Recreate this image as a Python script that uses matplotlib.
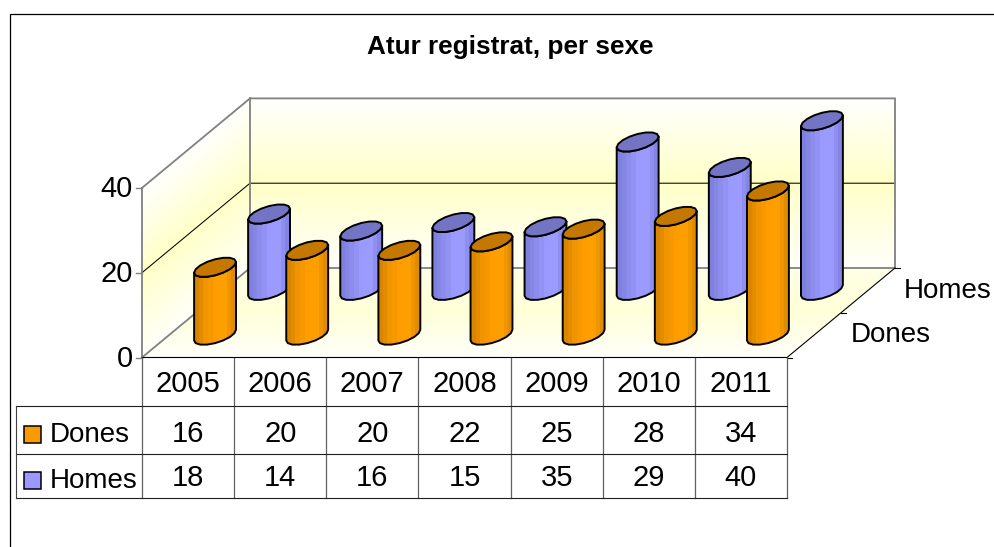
import matplotlib
matplotlib.use('Agg')
import matplotlib.pyplot as plt
from matplotlib.colors import LinearSegmentedColormap
from matplotlib.patches import Polygon, Rectangle
import numpy as np

plt.rcParams['font.family'] = ['Liberation Sans', 'DejaVu Sans']

# data
years = ['2005', '2006', '2007', '2008', '2009', '2010', '2011']
dones = [16, 20, 20, 22, 25, 28, 34]
homes = [18, 14, 16, 15, 35, 29, 40]
series_names = ['Dones', 'Homes']
y_ticks = [0, 20, 40]
title = 'Atur registrat, per sexe'

# geometry of the 3d box, in pixels
x0, x1 = 142, 787
y0 = 357.5
dx, dy = 108, 89.5
px_per_unit = 4.24
col_w = (x1 - x0) / len(years)

GRAY = '#808080'
FS_NUM = 21
FS_TXT = 20
cm_orange = LinearSegmentedColormap.from_list('o', ['#D98500', '#F09400', '#FF9C00', '#FFA000', '#E08C00'])
cm_blue = LinearSegmentedColormap.from_list('b', ['#7F7FDD', '#8C8CEC', '#9999FF', '#9C9CFF', '#8484E4'])
cm_wall = LinearSegmentedColormap.from_list('w', ['#FFFFFF', '#FFFFC8', '#FFFFFA'])


def proj(i, depth, value=0):
    # i = column position, depth 0..1 from front to back
    return (x0 + i * col_w + depth * dx, y0 - depth * dy - value * px_per_unit)


fig = plt.figure(figsize=(9.95, 5.47), dpi=100)
ax = fig.add_axes([0, 0, 1, 1])
ax.axis('off')

# walls
back_left = proj(0, 1)
back_right = proj(len(years), 1)
top = back_left[1] - 40 * px_per_unit
grad = np.linspace(0, 1, 100).reshape(-1, 1)
ax.imshow(grad, cmap=cm_wall, aspect='auto', zorder=1,
          extent=(back_left[0], back_right[0], back_left[1], top))

# left wall, gradient follows the slant
xs = np.linspace(x0, back_left[0], 60)
ys = np.linspace(top, y0, 200)
X, Y = np.meshgrid(xs, ys)
low = y0 - (X - x0) / dx * dy
im = ax.imshow(1 - (low - Y) / (40 * px_per_unit), cmap=cm_wall, vmin=0, vmax=1, aspect='auto', zorder=1,
               origin='upper', extent=(x0, back_left[0], y0, top))
p = Polygon([proj(0, 0, 40), proj(0, 1, 40), proj(0, 1), proj(0, 0)], fc='none', ec='none', transform=ax.transData)
ax.add_patch(p)
im.set_clip_path(p)

# floor
cm_floor = LinearSegmentedColormap.from_list('f', ['#FFFFE6', '#FFFFD8', '#FFFFFA'])
im = ax.imshow(grad, cmap=cm_floor, aspect='auto', zorder=1,
               extent=(x0, back_right[0], y0, back_left[1]))
p = Polygon([proj(0, 0), proj(len(years), 0), proj(len(years), 1), proj(0, 1)], fc='none', ec='none')
ax.add_patch(p)
im.set_clip_path(p)

# grid line at 20
a, b, c = proj(0, 0, 20), proj(0, 1, 20), proj(len(years), 1, 20)
ax.plot([a[0], b[0], c[0]], [a[1], b[1], c[1]], color='black', lw=0.75, zorder=2)

# box edges
for pts in ([proj(0, 0, 40), proj(0, 1, 40), proj(len(years), 1, 40), proj(len(years), 1), proj(0, 1)],
            [proj(0, 1, 40), proj(0, 1)],
            [proj(0, 0, 40), proj(0, 0), proj(0, 1)]):
    ax.plot([q[0] for q in pts], [q[1] for q in pts], color=GRAY, lw=1.3, zorder=2, solid_joinstyle='miter')
e = [proj(0, 0), proj(len(years), 0), proj(len(years), 1)]
ax.plot([q[0] for q in e], [q[1] for q in e], color='black', lw=0.8, zorder=2)

# ticks on the depth axis
for d in [0, 0.5, 1]:
    q = proj(len(years), d)
    ax.plot([q[0], q[0] + 5], [q[1], q[1]], color='black', lw=0.8, zorder=2)

# y axis ticks and labels
for v in y_ticks:
    q = proj(0, 0, v)
    ax.plot([q[0] - 6, q[0]], [q[1], q[1]], color=GRAY, lw=1, zorder=2)
    ax.text(q[0] - 9, q[1] + 1.5, str(v), ha='right', va='center', fontsize=FS_NUM)


def cylinder(i, depth, value, cmap, top_color, zorder):
    cx, cy = proj(i + 0.5, depth)
    h = value * px_per_unit
    r_a, r_b = 17.4, 0.108
    t0 = np.arctan2(r_b * dx, r_a)
    t = t0 + 2 * np.pi * np.arange(16) / 16
    ox = r_a * np.cos(t) + r_b * dx * np.sin(t)
    oy = -r_b * dy * np.sin(t)
    front = [k for k in range(16) if k >= 8] + [0]
    base_pts = [(cx + ox[k], cy + oy[k]) for k in front]
    top_pts = [(cx + ox[k], cy + oy[k] - h) for k in front]
    body = Polygon(base_pts + top_pts[::-1], closed=True, fc='none', ec='black', lw=1.4, zorder=zorder + 0.2,
                   joinstyle='round')
    ax.add_patch(body)
    w = ox.max()
    shade = np.linspace(0, 1, 9).reshape(1, -1)
    im = ax.imshow(shade, cmap=cmap, aspect='auto', interpolation='nearest', zorder=zorder + 0.1,
                   extent=(cx - w, cx + w, cy + 12, cy - h - 12))
    clip = Polygon(base_pts + top_pts[::-1], closed=True, fc='none', ec='none', zorder=zorder)
    ax.add_patch(clip)
    im.set_clip_path(clip)
    ax.add_patch(Polygon(np.column_stack([cx + ox, cy + oy - h]), closed=True, fc=top_color, ec='black', lw=1.4,
                         zorder=zorder + 0.3, joinstyle='round'))


# back row first, so Dones overlaps Homes
z = 3
for i, v in enumerate(homes):
    cylinder(i, 0.75, v, cm_blue, '#7474C4', z)
    z += 1
for i, v in enumerate(dones):
    cylinder(i, 0.25, v, cm_orange, '#C47800', z)
    z += 1

# series names next to the floor
ax.text(904, 291.5, series_names[1], ha='left', va='center', fontsize=FS_TXT)
ax.text(851, 335.5, series_names[0], ha='left', va='center', fontsize=FS_TXT)

# data table
t_top, t_mid1, t_mid2, t_bot = y0, 406, 454, 498
t_left = 16
for i in range(len(years) + 1):
    x = x0 + i * col_w
    ax.plot([x, x], [t_top, t_bot], color='#606060', lw=0.9, zorder=2)
for y in (t_mid1, t_mid2, t_bot):
    ax.plot([t_left, x1], [y, y], color='#202020', lw=0.8, zorder=2)
ax.plot([t_left, t_left], [t_mid1, t_bot], color='#404040', lw=0.8, zorder=2)

for i, yr in enumerate(years):
    cx = x0 + (i + 0.5) * col_w
    ax.text(cx, 383.5, yr, ha='center', va='center', fontsize=FS_NUM)
    ax.text(cx, 433.5, str(dones[i]), ha='center', va='center', fontsize=FS_NUM)
    ax.text(cx, 478.5, str(homes[i]), ha='center', va='center', fontsize=FS_NUM)

ax.add_patch(Rectangle((23.5, 426), 17, 17, fc='#FF9900', ec='black', lw=1.1, zorder=3))
ax.add_patch(Rectangle((23.5, 472), 17, 17, fc='#9999FF', ec='black', lw=1.1, zorder=3))
ax.text(50, 434.5, series_names[0], ha='left', va='center', fontsize=FS_TXT)
ax.text(50, 481.5, series_names[1], ha='left', va='center', fontsize=FS_TXT)

# title and chart frame
ax.text(510.5, 47, title, ha='center', va='center', fontsize=18.8, fontweight='bold')
ax.plot([9.5, 9.5, 995], [547, 14, 14], color='black', lw=0.9, zorder=2, solid_joinstyle='miter')

ax.set_xlim(0, 995)
ax.set_ylim(547, 0)
fig.savefig('out.png', dpi=100)
